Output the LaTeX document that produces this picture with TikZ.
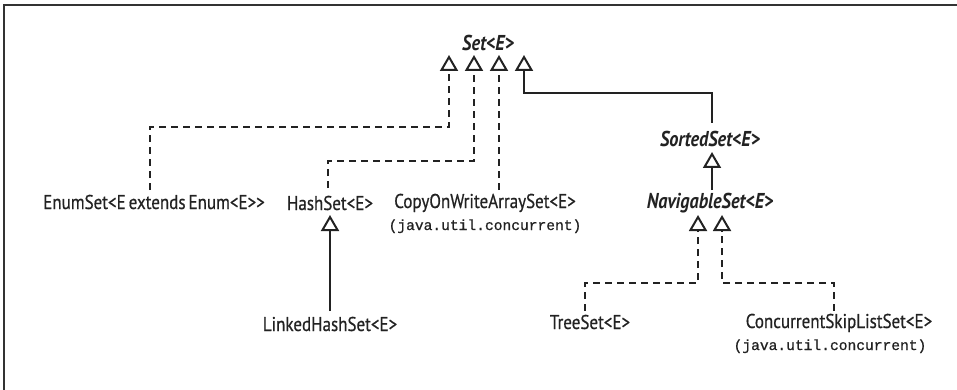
\documentclass[tikz,border=0pt]{standalone}
\usepackage{fontspec}
\setmainfont{PT Sans}[FakeStretch=0.85, UprightFeatures={FakeBold=0.6}]
\setmonofont{Liberation Mono}[FakeBold=0.8]
\usetikzlibrary{arrows.meta}
\definecolor{ink}{HTML}{222222}
\definecolor{framec}{HTML}{333333}
\begin{document}
\begin{tikzpicture}[x=1pt,y=-1pt,
  lbl/.style={font=\fontsize{20}{22}\selectfont, inner sep=0pt, anchor=base, text=ink},
  abst/.style={lbl, font=\fontsize{21.5}{23}\selectfont\bfseries\itshape},
  pkg/.style={font=\fontsize{14.6}{16}\selectfont\ttfamily, inner sep=0pt, anchor=base, text=ink},
  conn/.style={line width=2.3pt, draw=ink, line join=miter,
    -{Triangle[width=18pt,length=16pt,fill=white,line width=2pt]}},
  gen/.style={conn},
  impl/.style={conn, dash pattern=on 7pt off 5pt},
]
\useasboundingbox (0,0) rectangle (957,390);
\draw[line width=2pt, draw=framec] (3.5,390) -- (3.5,5) -- (957,5);

% nodes
\node[abst] (set) at (488,51) {Set<E>};
\node[abst] (sorted) at (710,147) {SortedSet<E>};
\node[abst] (nav) at (710,208) {NavigableSet<E>};
\node[lbl] (enum) at (154,209) {EnumSet<E\hspace{3pt}extends\hspace{3pt}Enum<E>{>}};
\node[lbl] (hash) at (330,210) {HashSet<E>};
\node[lbl] (cow) at (485,208) {CopyOnWriteArraySet<E>};
\node[pkg] (cowpkg) at (485,230) {(java.util.concurrent)};
\node[lbl] (linked) at (330,331) {LinkedHashSet<E>};
\node[lbl] (tree) at (590,329) {TreeSet<E>};
\node[lbl] (csl) at (839,328) {ConcurrentSkipListSet<E>};
\node[pkg] (cslpkg) at (830,350) {(java.util.concurrent)};

% ports
\coordinate (s1) at (449,55);
\coordinate (s2) at (474,55);
\coordinate (s3) at (499,55);
\coordinate (s4) at (524,55);
\coordinate (so) at (712,152);
\coordinate (n1) at (698,215);
\coordinate (n2) at (722,215);
\coordinate (h) at (330,215);

\coordinate (enumtop) at (150,190);
\coordinate (hashtop) at (328,188);
\coordinate (cowtop) at (499,190);
\coordinate (sortedtop) at (712,123);
\coordinate (navtop) at (712,190);
\coordinate (linkedtop) at (330,311);
\coordinate (treetop) at (585,311);
\coordinate (csltop) at (834,311);

% connectors
\draw[impl] (enumtop) -- ++(0,-63) -| (s1);
\draw[impl] (hashtop) -- ++(0,-27) -| (s2);
\draw[impl] (cowtop) -- (s3);
\draw[gen] (sortedtop) -- ++(0,-30) -| (s4);
\draw[gen] (navtop) -- (so);
\draw[gen] (linkedtop) -- (h);
\draw[impl] (treetop) -- ++(0,-28) -| (n1);
\draw[impl] (csltop) -- ++(0,-28) -| (n2);
\end{tikzpicture}
\end{document}
